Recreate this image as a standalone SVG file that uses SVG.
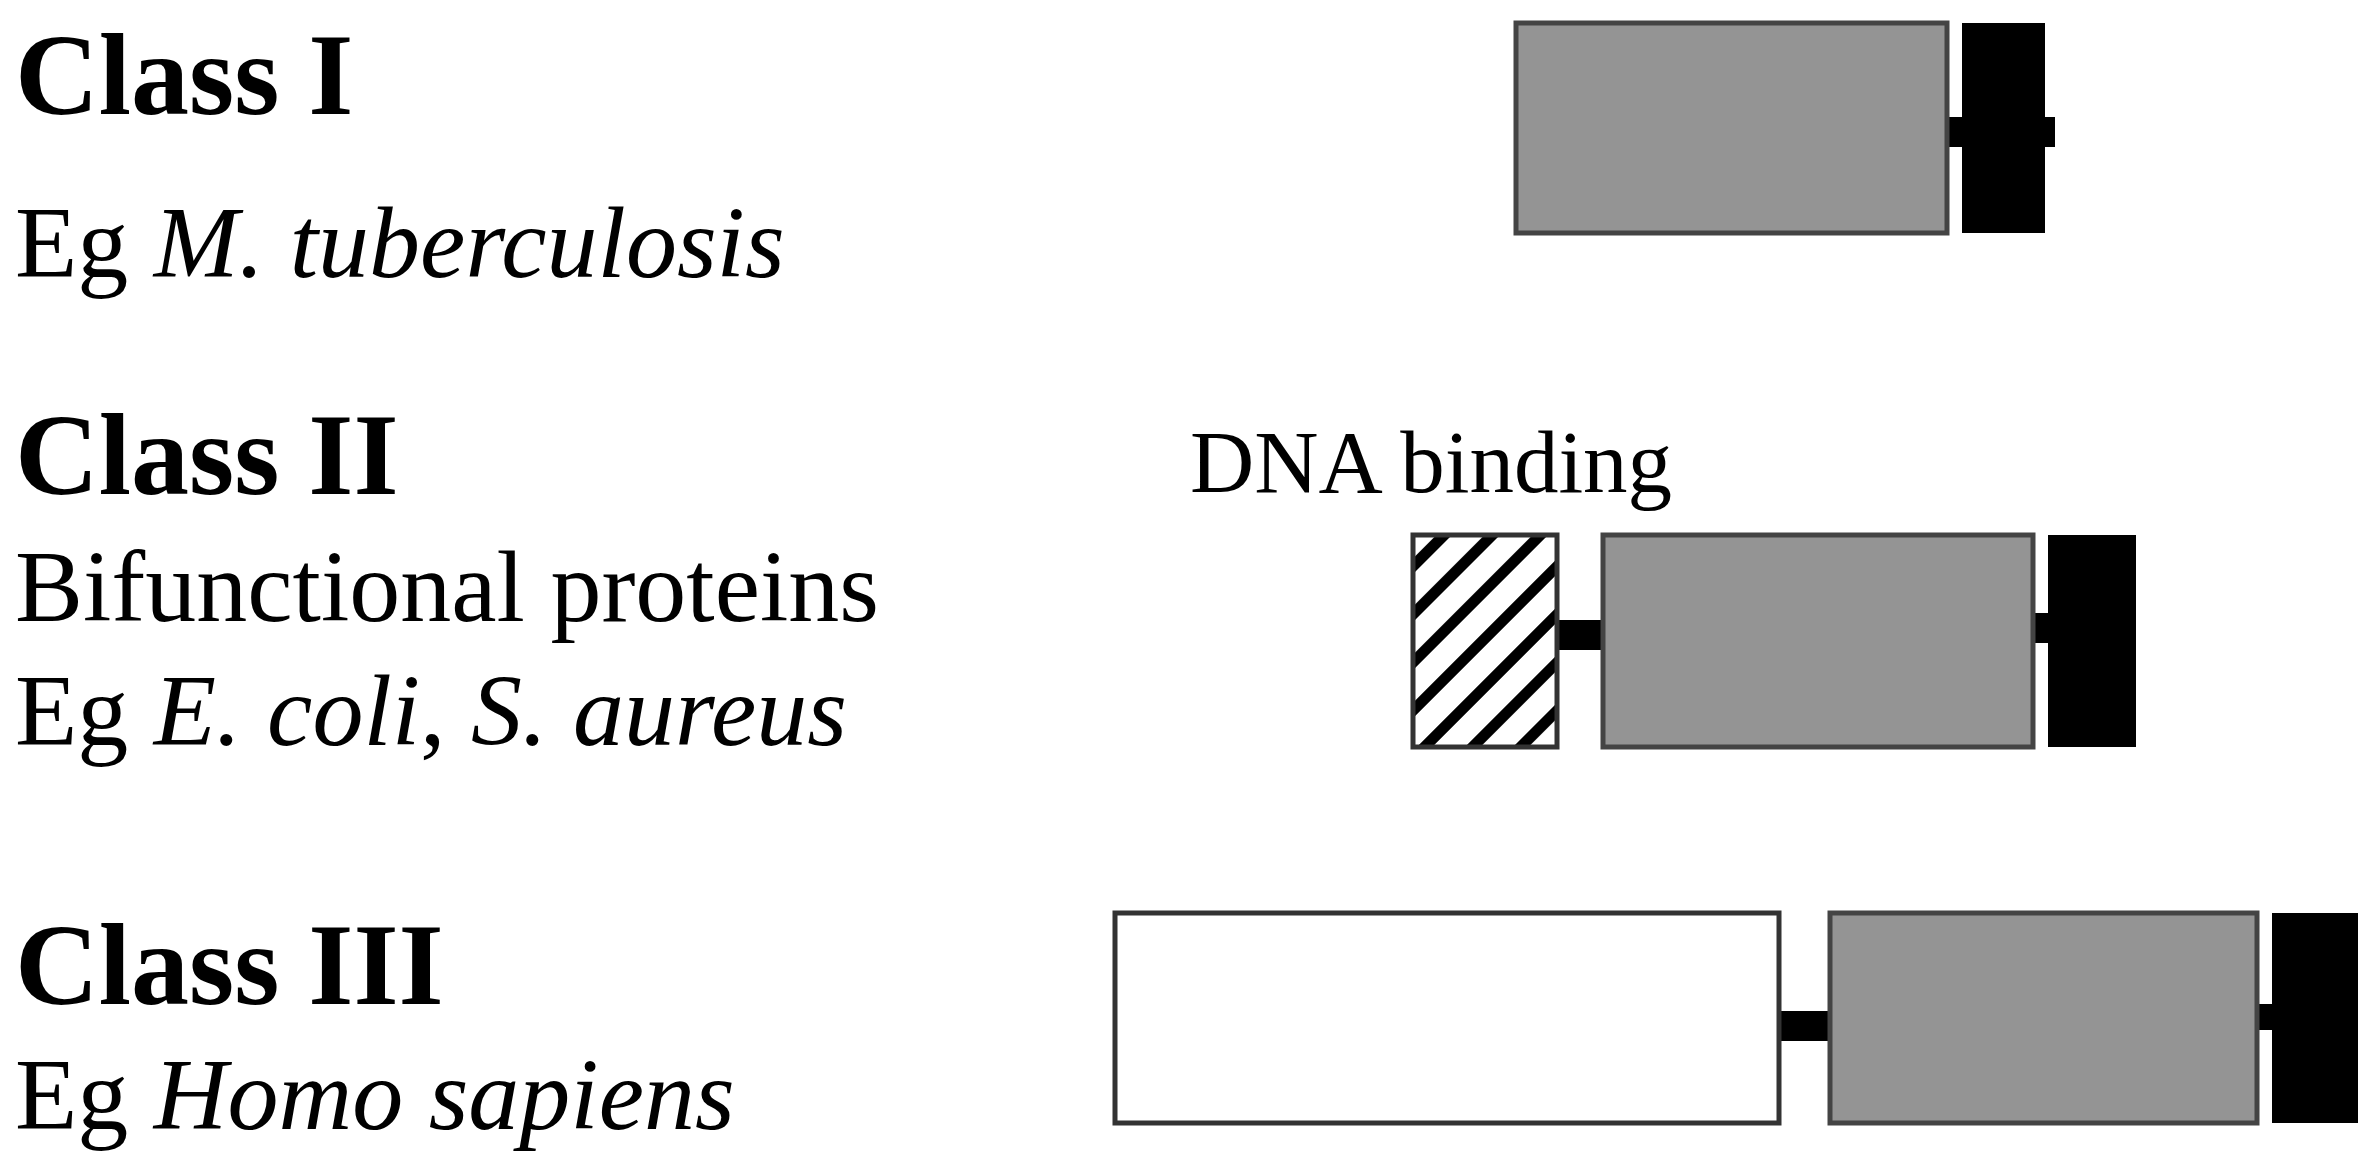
<svg xmlns="http://www.w3.org/2000/svg" width="2375" height="1168" viewBox="0 0 2375 1168">
<style>
.b{font-family:"Liberation Serif",serif;font-weight:bold;font-size:116px;fill:#000}
.t{font-family:"Liberation Serif",serif;font-size:102px;fill:#000}
.s{font-family:"Liberation Serif",serif;font-size:89px;fill:#000}
.g{fill:#949494;stroke:#444;stroke-width:5}
.w{fill:#fff;stroke:#333;stroke-width:5}
.k{fill:#000}
</style>
<defs>
<pattern id="h" patternUnits="userSpaceOnUse" width="34" height="34" patternTransform="rotate(45)">
<rect width="34" height="34" fill="#fff"/>
<rect x="0" y="0" width="11" height="34" fill="#000"/>
</pattern>
</defs>
<g id="labels">
<text class="b" x="15" y="114">Class I</text>
<text class="t" x="15" y="277">Eg <tspan font-style="italic">M. tuberculosis</tspan></text>
<text class="b" x="15" y="494">Class II</text>
<text class="t" x="15" y="621">Bifunctional proteins</text>
<text class="t" x="15" y="745">Eg <tspan font-style="italic">E. coli</tspan>, <tspan font-style="italic">S. aureus</tspan></text>
<text class="b" x="15" y="1004">Class III</text>
<text class="t" x="15" y="1129">Eg <tspan font-style="italic">Homo sapiens</tspan></text>
<text class="s" x="1190" y="492">DNA binding</text>
</g>
<g id="connectors">
<rect class="k" x="1947" y="117" width="108" height="30"/>
<rect class="k" x="1557" y="620" width="46" height="30"/>
<rect class="k" x="2033" y="613" width="16" height="30"/>
<rect class="k" x="1772" y="1011" width="58" height="30"/>
<rect class="k" x="2257" y="1004" width="16" height="26"/>
</g>
<g id="class1">
<rect class="g" x="1516" y="23" width="431" height="210"/>
<rect class="k" x="1962" y="23" width="83" height="210"/>
</g>
<g id="class2">
<rect x="1413" y="535" width="144" height="212" fill="url(#h)" stroke="#333" stroke-width="5"/>
<rect class="g" x="1603" y="535" width="430" height="212"/>
<rect class="k" x="2048" y="535" width="88" height="212"/>
</g>
<g id="class3">
<rect class="w" x="1115" y="913" width="664" height="210"/>
<rect class="g" x="1830" y="913" width="427" height="210"/>
<rect class="k" x="2272" y="913" width="86" height="210"/>
</g>
</svg>
